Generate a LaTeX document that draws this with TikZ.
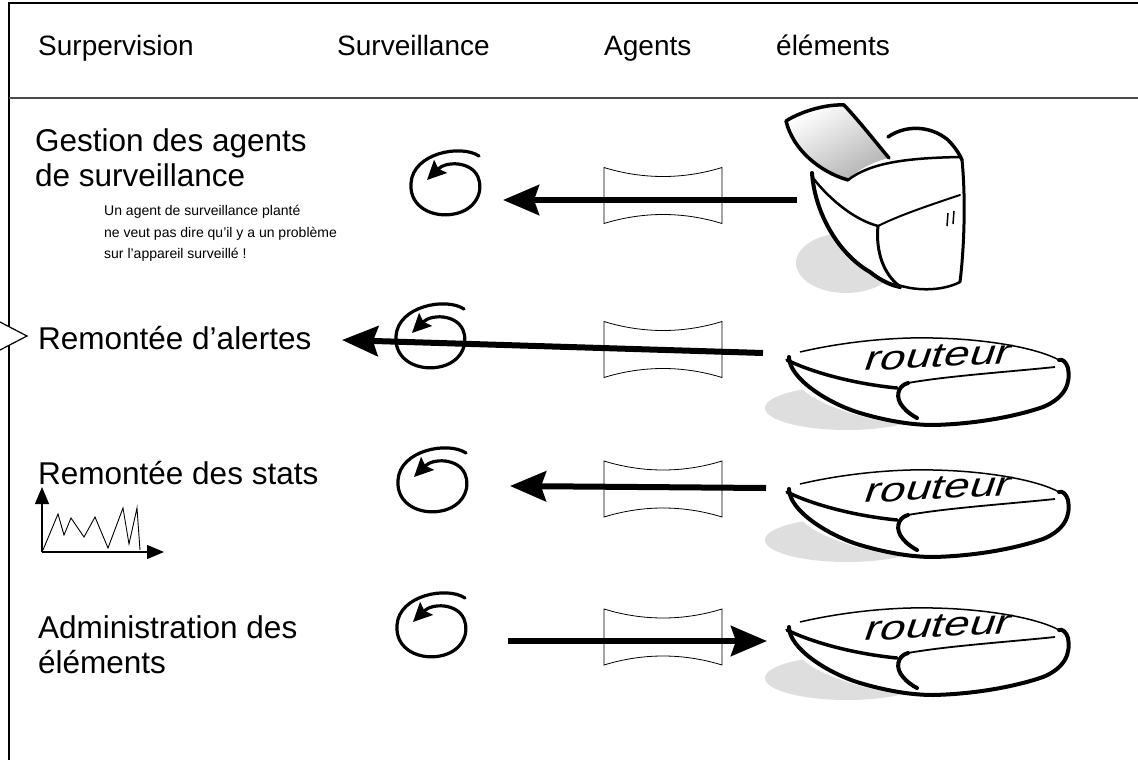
\documentclass[tikz,border=0pt]{standalone}
\usepackage{fontspec}
\setmainfont{Liberation Sans}
\usetikzlibrary{arrows.meta}
\definecolor{shadowgray}{gray}{0.87}
\begin{document}
\begin{tikzpicture}[x=1pt,y=-1pt,
  hdr/.style={font=\fontsize{28}{32}\selectfont, anchor=base west, inner sep=0pt},
  lbl/.style={font=\fontsize{31.5}{36}\selectfont, anchor=base west, inner sep=0pt},
  note/.style={font=\fontsize{14}{16}\selectfont, anchor=base west, inner sep=0pt},
  frame/.style={line width=1.2pt},
  bigarrow/.style={line width=6pt, -{Stealth[length=36pt,width=30pt,inset=5pt]}},
  axis/.style={line width=1.2pt, -{Triangle[length=17pt,width=14pt]}},
  routertxt/.style={font=\fontsize{34}{34}\selectfont, inner sep=0pt, rotate=3, xslant=0.4, xscale=1.35},
  spiral/.pic={
    \draw[line width=3.2pt, line cap=round, -{Stealth[length=19pt,width=18pt,inset=3pt]}]
      (33,-27) .. controls (15,-39) and (-33,-30) .. (-35,0)
      .. controls (-37,25) and (-12,35) .. (8,31)
      .. controls (30,27) and (38,8) .. (32,-6)
      .. controls (25,-22) and (0,-22) .. (-19,-3);
  },
  channel/.pic={
    \draw[line width=0.8pt, fill=white]
      (-59,-28) .. controls (-20,-16) and (20,-16) .. (59,-28) -- (59,28)
      .. controls (20,16) and (-20,16) .. (-59,28) -- cycle;
  },
  router/.pic={
    \fill[shadowgray] (60,50) ellipse [x radius=82, y radius=22];
    \fill[white] (0,-1) .. controls (40,-14) and (100,-22) .. (146,-20)
      .. controls (200,-18) and (260,-8) .. (281,10)
      .. controls (285,25) and (275,45) .. (256,49)
      .. controls (220,60) and (170,68) .. (130,67)
      .. controls (90,66) and (40,50) .. (20,35)
      .. controls (8,25) and (0,10) .. (0,-1) -- cycle;
    % top edge
    \draw[line width=1.5pt] (13,-6) .. controls (60,-17) and (110,-21) .. (146,-20)
      .. controls (200,-19) and (250,-10) .. (272,2);
    % outer contour, tip round the bottom to the right side
    \draw[line width=4pt, line cap=round] (2,-1) .. controls (2,20) and (40,45) .. (73,55)
      .. controls (100,63) and (125,67) .. (146,67)
      .. controls (190,66) and (230,58) .. (256,49)
      .. controls (278,40) and (284,25) .. (281,10)
      .. controls (279,4) and (276,1) .. (272,2);
    % front lower edge
    \draw[line width=3.5pt, line cap=round] (0,2) .. controls (20,12) and (60,25) .. (110,30);
    % front upper edge
    \draw[line width=1.8pt] (121,25) .. controls (160,18) and (220,14) .. (268,9);
    % curl at the front corner
    \draw[line width=4pt, line cap=round] (121,25) .. controls (110,28) and (108,40) .. (116,49)
      .. controls (120,54) and (126,58) .. (130,60);
    \node[routertxt] (-txt) at (152,-2) {routeur};
  }]
\useasboundingbox (0,0) rectangle (1138,760);

% frame of the table
\draw[frame] (1138,3) -- (9,3) -- (9,760);
\draw[line width=1.5pt, black!70] (9,98) -- (1138,98);
\filldraw[frame, fill=white] (0,322) -- (27,336) -- (0,350);

% column headings
\node[hdr] (h1) at (38,56) {Surpervision};
\node[hdr] (h2) at (337,56) {Surveillance};
\node[hdr] (h3) at (604,56) {Agents};
\node[hdr] (h4) at (776,56) {éléments};

% row labels
\node[lbl] (l1a) at (35,151) {Gestion des agents};
\node[lbl] (l1b) at (35,186) {de surveillance};
\node[note] (n1) at (104,215) {Un agent de surveillance planté};
\node[note] (n2) at (104,237) {ne veut pas dire qu’il y a un problème};
\node[note] (n3) at (104,258) {sur l’appareil surveillé !};
\node[lbl] (l2) at (38,349) {Remontée d’alertes};
\node[lbl] (l3) at (38,484) {Remontée des stats};
\node[lbl] (l4a) at (38,638) {Administration des};
\node[lbl] (l4b) at (38,673) {éléments};

% small statistics chart
\coordinate (o) at (42,552);
\coordinate (ytip) at (42,487);
\coordinate (xtip) at (164,552);
\draw[axis] (o) -- (ytip);
\draw[axis] (o) -- (xtip);
\draw[line width=0.9pt] (43,550) -- (58,514) -- (64,535) -- (71,518) -- (84,537) -- (95,517)
  -- (108,548) -- (123,508) -- (129,544) -- (137,508) -- (140,550);

% agents
\pic at (446,183) {spiral};
\pic at (431,336) {spiral};
\pic at (433,480) {spiral};
\pic at (432,625) {spiral};

% channels
\pic at (663,195.5) {channel};
\pic at (663,349.5) {channel};
\pic at (663,489) {channel};
\pic at (663,637) {channel};

% printer
\fill[shadowgray] (846,263) ellipse [x radius=50, y radius=30];
\fill[white] (812,172) .. controls (815,215) and (845,265) .. (898,286)
  .. controls (920,292) and (945,290) .. (960,282)
  .. controls (964,250) and (966,200) .. (962,160)
  .. controls (955,145) and (935,125) .. (915,126)
  .. controls (903,127) and (893,131) .. (889,137) -- (848,180) -- cycle;
\draw[line width=3.5pt, line cap=round] (888,137) .. controls (905,125) and (930,125) .. (948,140)
  .. controls (955,147) and (960,155) .. (962,160);
\draw[line width=3pt, line cap=round] (962,160) .. controls (966,200) and (964,250) .. (960,282);
\draw[line width=4pt, line cap=round] (812,173) .. controls (815,215) and (840,255) .. (870,272)
  .. controls (880,280) and (890,285) .. (900,287);
\draw[line width=2.5pt, line cap=round] (813,178) .. controls (830,200) and (855,220) .. (878,226);
\draw[line width=2pt, line cap=round] (878,226) .. controls (900,215) and (930,205) .. (960,195);
\draw[line width=3pt, line cap=round] (878,226) .. controls (876,245) and (880,270) .. (898,285);
\draw[line width=2.5pt, line cap=round] (898,285) .. controls (920,292) and (945,290) .. (960,282);
\shade[top color=white, bottom color=black!30, shading angle=30]
  (786,121) .. controls (800,112) and (825,104) .. (844,105)
  .. controls (860,122) and (878,145) .. (889,158)
  .. controls (872,162) and (857,170) .. (848,180)
  .. controls (820,172) and (793,150) .. (786,121) -- cycle;
\draw[line width=3.5pt, line cap=round, line join=round]
  (848,180) .. controls (820,172) and (793,150) .. (786,121)
  .. controls (800,112) and (825,104) .. (844,105)
  .. controls (860,122) and (878,145) .. (889,158);
\draw[line width=2.5pt, line cap=round] (848,180) .. controls (870,163) and (905,158) .. (960,157);
\draw[line width=1.5pt] (948,213) -- (947,226) (954,211) -- (953,224);
\coordinate (p1) at (797,200);

% routers
\pic (r2) at (787,358) {router};
\pic (r3) at (787,490) {router};
\pic (r4) at (787,628) {router};

% arrow endpoints
\coordinate (a1) at (503,200);
\coordinate (s2) at (763,353);
\coordinate (a2) at (342,340);
\coordinate (s3) at (766,488);
\coordinate (a3) at (510,486);
\coordinate (s4) at (508,641);
\coordinate (a4) at (767,641);

\draw[bigarrow] (p1) -- (a1);
\draw[bigarrow] (s2) -- (a2);
\draw[bigarrow] (s3) -- (a3);
\draw[bigarrow] (s4) -- (a4);
\end{tikzpicture}
\end{document}
